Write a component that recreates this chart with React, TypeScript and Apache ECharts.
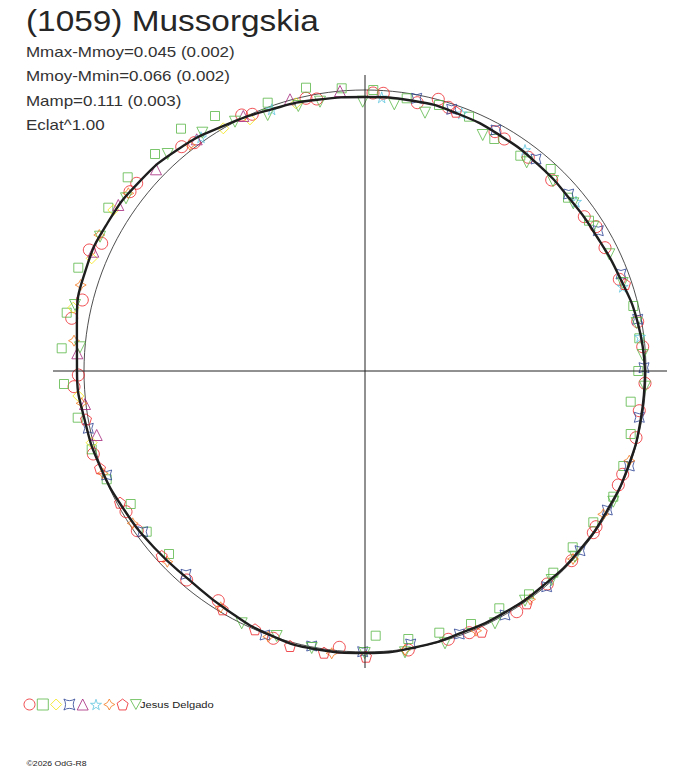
import React, { useEffect, useRef } from 'react';
import * as echarts from 'echarts';

// textos
const titleText = '(1059) Mussorgskia';
const statLines = [
  'Mmax-Mmoy=0.045 (0.002)',
  'Mmoy-Mmin=0.066 (0.002)',
  'Mamp=0.111 (0.003)',
  'Eclat^1.00',
];
const observer = 'Jesus Delgado';
const copyright = '\u00a92026 OdG-R8';

// radio del circulo de referencia (magnitud media), en unidades del grafico
const refRadius = 281;

// ejes (cruz)
const crossH: [number, number][] = [[-312, 0], [302, 0]];
const crossV: [number, number][] = [[0, 296], [0, -297]];

// curva ajustada (x, y), cada 10 grados de fase
const fitCurve: [number, number][] = [
  [280, 0], [272.8, 48.1], [255.1, 92.9], [232.1, 134], [204.9, 171.9], [173.2, 206.4],
  [135.8, 235.1], [93.5, 257], [47.7, 270.3], [0, 274], [-47.8, 271.3], [-95.1, 261.2],
  [-141.5, 245.1], [-186.4, 222.1], [-225.6, 189.3], [-257.2, 148.5], [-279.1, 101.6],
  [-288.1, 50.8], [-288, 0], [-280.2, -49.4], [-264.5, -96.3], [-240.7, -139],
  [-210.7, -176.8], [-175.5, -209.1], [-138, -239], [-95.9, -263.6], [-49, -278.2],
  [0, -282], [48.8, -276.7], [95.4, -262.2], [139.5, -241.6], [179.3, -213.7],
  [214.1, -179.7], [242, -139.8], [263.1, -95.8], [275.7, -48.6], [280, 0],
];

// sesiones de observacion (x, y)
const redCircles: [number, number][] = [
  [8, 278], [18.3, 277.7], [52.3, 268.3], [73.3, 271.7], [83.3, 263.7], [130, 239.3],
  [139.3, 232], [163.3, 213.7], [186.7, 191], [219.3, 154.3], [231, 144.3], [240, 123.3],
  [254.3, 91.7], [272.7, 49.3], [277.7, 24.3], [280, -12.3], [-59, 272.7], [-48.3, 272],
  [-123.3, 256], [-112.7, 256.7], [-183.3, 224.3], [-170.7, 228.3], [-228.3, 187.7],
  [-235, 179.3], [-263.3, 127.7], [-275.7, 121], [-282.7, 71], [-293.3, 52.7],
  [-286.7, -4], [-291, -15.7], [-271.7, -83], [-239, -140.7], [-227.7, -159.7],
  [-178.3, -209], [-146.7, -229.7], [-91.7, -267.3], [-25.7, -276.3], [274.3, -39.7],
  [271, -66.7], [257.7, -103.3], [253.3, -114], [231, -155.7], [228.3, -161.7],
  [206.7, -189.7], [182.3, -213], [151.7, -240.7], [104.3, -261.7], [83.3, -268.3],
  [43.3, -279],
];
const greenSquares: [number, number][] = [
  [-23.3, 282.7], [8.3, 281], [41.7, 272.7], [74, 266], [104, 254.3], [129.3, 232],
  [155.3, 215.3], [185.7, 202], [203, 173.3], [224, 150.3], [268.3, 65], [274.3, 32.7],
  [273.3, 0], [265.7, -30.7], [265.7, -63], [258.3, -95], [248.3, -125.7], [228.3, -151.3],
  [207.7, -176.3], [188.3, -201.7], [164, -223.3], [134.3, -237.3], [106, -253],
  [74.3, -261.7], [43.3, -268], [10.7, -264.7], [-196, -183], [-218.3, -160.7],
  [-234.3, -133], [-258.3, -108.3], [-273.3, -78.3], [-287.3, -46.7], [-301, -13],
  [-303.3, 22.7], [-298.3, 58.3], [-286.7, 103.3], [-256.7, 163.3], [-237.3, 193.7],
  [-210, 217], [-184, 242.3], [-150, 255], [-97.3, 268.3], [-59, 283.3],
];
const yellowDiamonds: [number, number][] = [
  [-69, 267.7], [-115, 251.7], [-141.7, 242.7], [-251.7, 161], [-273.3, 112.7],
  [-291.7, 63.3], [-286.7, -25], [-273.3, -71.7],
];
const blueStars: [number, number][] = [
  [51.7, 272.7], [86.7, 261.7], [131, 241], [171, 212], [203.7, 177], [233.3, 140.3],
  [256, 97], [272.7, 51.7], [279, 3.3], [-276.7, -57.3], [-258.3, -104], [-222.3, -160.7],
  [-179, -203.3], [-100, -264], [-53.3, -275], [-2.3, -280.7], [274.3, -46.3],
  [264.3, -95], [242.3, -139], [215, -179.7], [181.7, -215.7], [140, -244], [94.3, -263],
  [45.7, -273],
];
const purpleTriangles: [number, number][] = [
  [-25, 280], [-75, 271.7], [-121.7, 255], [-168.3, 231.7], [-209, 201.7], [-246.7, 166],
  [-271.7, 119.3], [-287.7, 17.7], [-280, -33], [-268.3, -64],
];
const cyanStars: [number, number][] = [
  [-93.3, 261.7], [-164, 233.7], [16.7, 273.7], [96.7, 257.7], [160, 221], [211, 169.3],
  [257.7, 84.3], [275, 34.3],
];
const orangeStars: [number, number][] = [
  [-175, 226], [-236.7, 177.7], [-265.7, 136], [-284.3, 86], [-291, 30.3], [-283.3, -32.3],
  [-262.3, -102.3], [-232.3, -152.3], [-197.7, -190.7], [-144.3, -236.3], [-96.7, -265.7],
  [-33.3, -282.3], [264.3, -89.7], [238.3, -143.3], [208, -188], [165, -228.3],
  [111, -259.7], [40, -279],
];
const redPentagons: [number, number][] = [
  [91, 259.3], [260, 87], [-279, -48.3], [-265, -97.3], [-245, -131.7], [-203.3, -185],
  [-142.3, -238.3], [-110, -258.3], [-75, -275], [-41, -281.7], [1, -285.7],
  [161.7, -232.3], [116.7, -260.7],
];
const greenTriangles: [number, number][] = [
  [-2.3, 269.3], [29.3, 266.7], [60, 258.3], [117.7, 236], [161.7, 208.7], [188, 190],
  [208.3, 167.7], [228.3, 144.3], [244.3, 116.7], [257.7, 88], [271.7, 48], [277.7, 16],
  [280, -15.7], [-66.7, 265], [-45, 269.3], [-97.3, 256], [-130, 249.3], [-162.7, 238.3],
  [-197.3, 217], [-265, 134.3], [-290, 66], [-285, 23.7], [-239, 172.7], [-123.3, -252.3],
  [-88.3, -265], [-53.3, -277], [-0.3, -282], [248.3, -130.7], [210, -185.7],
  [186.7, -209], [160, -229.7], [130, -252.3], [80, -272.3], [40, -281.3],
];

// simbolos
const ASTROID = 'path://M0,0 Q5,3 10,0 Q7,5 10,10 Q5,7 0,10 Q3,5 0,0 Z';
const SPARK = 'path://M5,0 Q6,4 10,5 Q6,6 5,10 Q4,6 0,5 Q4,4 5,0 Z';
const STAR5 = 'path://M50,0 L61,35 L98,35 L68,57 L79,91 L50,70 L21,91 L32,57 L2,35 L39,35 Z';
const PENTAGON = 'path://M50,0 L98,36 L80,95 L20,95 L2,36 Z';
const DOWN_TRI = 'path://M0,0 L10,0 L5,9 Z';

const sessions = [
  { name: 'S1', data: redCircles, symbol: 'circle', size: 12, color: '#ec2227' },
  { name: 'S2', data: greenSquares, symbol: 'rect', size: 9, color: '#5ab847' },
  { name: 'S3', data: yellowDiamonds, symbol: 'diamond', size: 11, color: '#f3e50c' },
  { name: 'S4', data: blueStars, symbol: ASTROID, size: 10, color: '#2c4294' },
  { name: 'S5', data: purpleTriangles, symbol: 'triangle', size: 11, color: '#a4267c' },
  { name: 'S6', data: cyanStars, symbol: STAR5, size: 11, color: '#5fc6df' },
  { name: 'S7', data: orangeStars, symbol: SPARK, size: 11, color: '#f47b20' },
  { name: 'S8', data: redPentagons, symbol: PENTAGON, size: 11, color: '#ec2227' },
  { name: 'S9', data: greenTriangles, symbol: DOWN_TRI, size: 11, color: '#5ab847' },
];

const CX = 365;
const CY = 371;
const HALF = 320;
const FONT = '"Liberation Sans", Arial, sans-serif';

export default function App() {
  const chartRef = useRef<HTMLDivElement>(null);

  useEffect(() => {
    if (!chartRef.current) return;
    const chart = echarts.init(chartRef.current, undefined, { renderer: 'svg' });

    const option: any = {
      animation: false,
      backgroundColor: '#ffffff',
      grid: { left: CX - HALF, top: CY - HALF, width: HALF * 2, height: HALF * 2 },
      xAxis: { type: 'value', min: -HALF, max: HALF, show: false },
      yAxis: { type: 'value', min: -HALF, max: HALF, show: false },
      polar: { center: [CX, CY], radius: refRadius },
      angleAxis: {
        type: 'value',
        min: 0,
        max: 360,
        axisLine: { show: true, lineStyle: { color: '#222', width: 0.8 } },
        axisTick: { show: false },
        axisLabel: { show: false },
        splitLine: { show: false },
      },
      radiusAxis: { type: 'value', min: 0, max: refRadius, show: false },
      legend: {
        left: 23.5,
        top: 698.5,
        padding: 0,
        itemWidth: 11,
        itemHeight: 11,
        itemGap: 1.3,
        selectedMode: false,
        formatter: () => '',
        data: sessions.map((s) => ({
          name: s.name,
          icon: s.symbol,
          itemStyle: { color: 'rgba(0,0,0,0)', borderColor: s.color, borderWidth: 1 },
        })),
      },
      graphic: [
        {
          type: 'text',
          x: 26,
          y: 21.5,
          scaleX: 1.15,
          style: { text: titleText, fontSize: 29, fontFamily: FONT, fill: '#262626', verticalAlign: 'middle' },
        },
        ...statLines.map((t, i) => ({
          type: 'text',
          x: 26,
          y: 51.5 + i * 24.6,
          scaleX: 1.17,
          style: { text: t, fontSize: 14.5, fontFamily: FONT, fill: '#333', verticalAlign: 'middle' },
        })),
        {
          type: 'text',
          x: 140,
          y: 704.5,
          scaleX: 1.24,
          style: { text: observer, fontSize: 9, fontFamily: FONT, fill: '#222', verticalAlign: 'middle' },
        },
        {
          type: 'text',
          x: 26.5,
          y: 763,
          scaleX: 1.08,
          style: { text: copyright, fontSize: 8, fontFamily: FONT, fill: '#222', verticalAlign: 'middle' },
        },
      ],
      series: [
        {
          type: 'line',
          data: crossH,
          symbol: 'none',
          silent: true,
          lineStyle: { color: '#222', width: 1 },
        },
        {
          type: 'line',
          data: crossV,
          symbol: 'none',
          silent: true,
          lineStyle: { color: '#222', width: 1 },
        },
        ...sessions.map((s) => ({
          name: s.name,
          type: 'scatter',
          data: s.data,
          symbol: s.symbol,
          symbolSize: s.size,
          clip: false,
          itemStyle: { color: 'rgba(0,0,0,0)', borderColor: s.color, borderWidth: 1 },
        })),
        {
          type: 'line',
          data: fitCurve,
          symbol: 'none',
          smooth: 0.5,
          z: 5,
          silent: true,
          lineStyle: { color: '#1e1e1e', width: 2.4 },
        },
      ],
    };

    chart.setOption(option);

    return () => {
      chart.dispose();
    };
  }, []);

  return (
    <div
      ref={chartRef}
      style={{ position: 'absolute', left: 0, top: 0, width: 688, height: 768, background: '#fff' }}
    />
  );
}
